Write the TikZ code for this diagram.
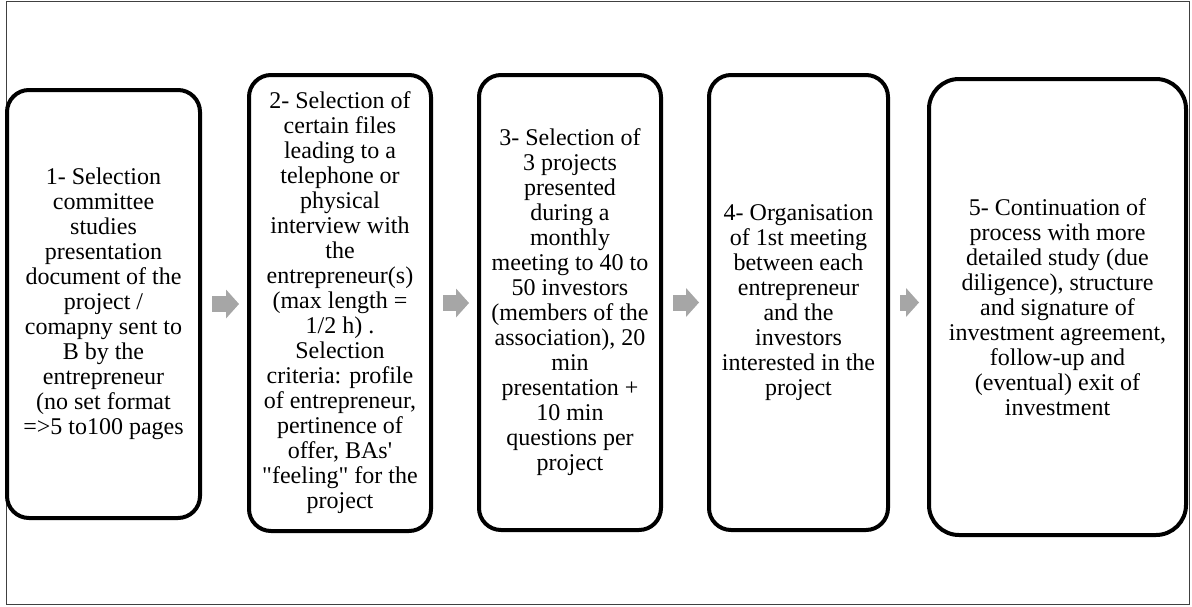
\documentclass[tikz,border=0pt]{standalone}
\usepackage{fontspec}
\setmainfont{Liberation Serif}[Ligatures=TeXOff]
\usetikzlibrary{arrows.meta}
\definecolor{arrowgray}{RGB}{166,166,166}

\tikzset{
stepbox/.style={draw,line width=4pt,rounded corners=22pt,inner sep=0pt,minimum height=455pt,align=center,font=\fontsize{24}{25}\selectfont},
blockarrow/.style={line width=16pt,draw=arrowgray,-{Triangle[length=13pt,width=29pt,line width=0pt,fill=arrowgray]},shorten <=10pt,shorten >=8pt}
}

\begin{document}
\begin{tikzpicture}[x=1pt,y=-1pt]
\useasboundingbox(0,0)rectangle(1192,606);
\draw[black!75,line width=1pt](6.5,1)rectangle(1189.5,604);

\node[stepbox,minimum width=193pt,minimum height=428pt](v1)at(103.5,304){1- Selection\\committee\\studies\\presentation\\document of the\\project /\\comapny sent to\\B by the\\entrepreneur\\(no set format\\=>5 to100 pages};
\node[stepbox,minimum width=182pt,minimum height=456pt](v2)at(340,303){2- Selection of\\certain files\\leading to a\\telephone or\\physical\\interview with\\the\\entrepreneur(s)\\(max length =\\1/2 h) .\\Selection\\criteria: profile\\of entrepreneur,\\pertinence of\\offer, BAs'\\"feeling" for the\\project};
\node[stepbox,minimum width=182pt](v3)at(570,302.5){3- Selection of\\3 projects\\presented\\during a\\monthly\\meeting to 40 to\\50 investors\\(members of the\\association), 20\\min\\presentation +\\10 min\\questions per\\project};
\node[stepbox,minimum width=179pt](v4)at(798.5,302.5){4- Organisation\\of 1st meeting\\between each\\entrepreneur\\and the\\investors\\interested in the\\project};
\node[stepbox,minimum width=257pt,minimum height=456pt,rounded corners=30pt](v5)at(1057.5,307){5- Continuation of\\process with more\\detailed study (due\\diligence), structure\\and signature of\\investment agreement,\\follow-up and\\(eventual) exit of\\investment};

\draw[blockarrow](v1.east)--(v1.east-|v2.west);
\draw[blockarrow](v2.east)--(v2.east-|v3.west);
\draw[blockarrow](v3.east)--(v3.east-|v4.west);
\draw[blockarrow](v4.east)--(v4.east-|v5.west);

\end{tikzpicture}
\end{document}
